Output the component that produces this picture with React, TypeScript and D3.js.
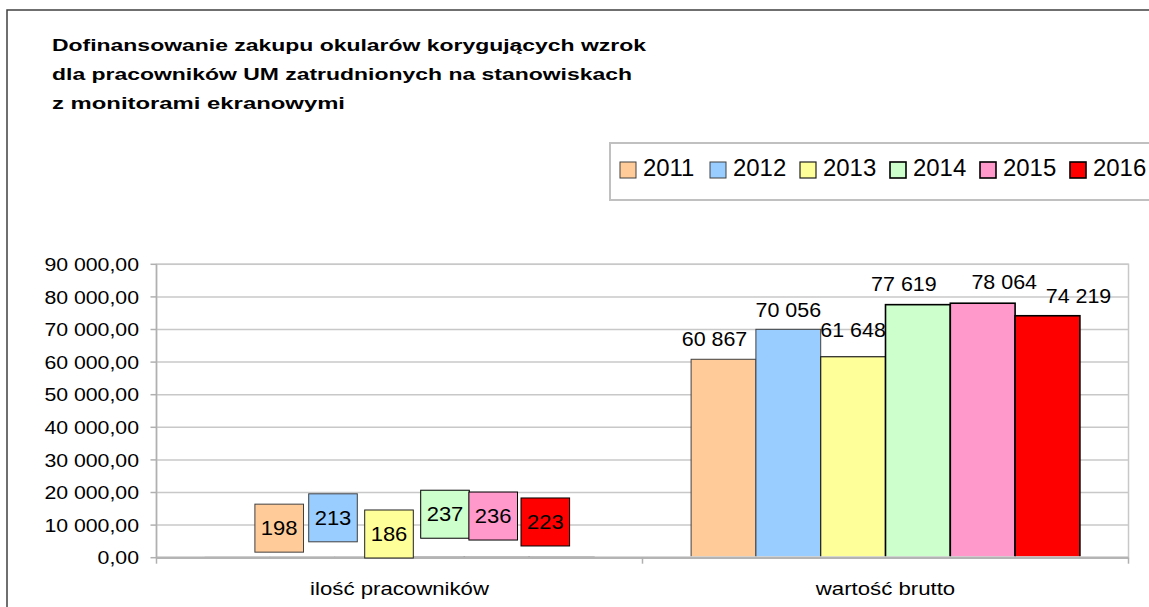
import React from "react";
import * as d3 from "d3";

// ---- data ----
const categories = ["ilość pracowników", "wartość brutto"];
const years = ["2011", "2012", "2013", "2014", "2015", "2016"];
const employees = [198, 213, 186, 237, 236, 223];
const grossValue = [60867, 70056, 61648, 77619, 78064, 74219];
const yTickValues = [0, 10000, 20000, 30000, 40000, 50000, 60000, 70000, 80000, 90000];
const titleLines = [
  "Dofinansowanie zakupu okularów korygujących wzrok",
  "dla pracowników UM zatrudnionych na stanowiskach",
  "z monitorami ekranowymi",
];

// ---- styles ----
const fills = ["#FFCC99", "#99CCFF", "#FFFF99", "#CCFFCC", "#FF99CC", "#FF0000"];
const strokes = ["#404040", "#404040", "#202020", "#000000", "#000000", "#000000"];
const strokeWidths = [1, 1, 1.2, 1.6, 1.6, 1.6];

// manual label nudges (px) per category, per series
const labelNudgeEmployees: [number, number][] = [
  [41.7, -28.9], [30.7, -39.2], [21.9, -23.1], [13.1, -42.7], [-3.5, -40.9], [-16.2, -35],
];
const labelNudgeGross: [number, number][] = [
  [-9, -1.3], [0, -0.6], [0, -7.4], [-14, -2], [21.5, -2.2], [31, -0.4],
];

const W = 1149;
const H = 607;
const FONT = "'Liberation Sans', Arial, sans-serif";

const locale = d3.formatLocale({ decimal: ",", thousands: " ", grouping: [3], currency: ["", ""] });
const fmtTick = locale.format(",.2f");
const fmtVal = locale.format(",.0f");

function SText(props: {
  x: number; y: number; sx: number; size: number; anchor?: string; weight?: string; children: React.ReactNode; dy?: string;
}) {
  const { x, y, sx, size, anchor = "start", weight = "normal", children, dy } = props;
  return (
    <text
      transform={`translate(${x},${y}) scale(${sx},1)`}
      fontSize={size}
      fontFamily={FONT}
      fontWeight={weight}
      textAnchor={anchor}
      dy={dy}
      fill="#000"
    >
      {children}
    </text>
  );
}

export default function App() {
  const plotLeft = 156.5;
  const plotRight = 1128.5;
  const plotTop = 264.3;
  const plotBottom = 557.7;

  const x0 = d3.scaleBand<string>().domain(categories).range([plotLeft, plotRight]).paddingInner(0).paddingOuter(0);
  const x1 = d3.scaleBand<string>().domain(years).range([0, x0.bandwidth()]).paddingInner(0).paddingOuter(0.75);
  const y = d3.scaleLinear().domain([0, 90000]).range([plotBottom, plotTop]);

  const seriesByCat = [employees, grossValue];
  const nudges = [labelNudgeEmployees, labelNudgeGross];

  const legendX0 = 620;
  const legendStep = 90;

  return (
    <>
      <style>{`html,body{margin:0;padding:0;overflow:hidden;background:#fff}`}</style>
      <svg
        width={W}
        height={H}
        viewBox={`0 0 ${W} ${H}`}
        style={{ position: "absolute", left: 0, top: 0, display: "block", overflow: "hidden" }}
      >
        <defs>
          <clipPath id="barClip">
            <rect x={plotLeft - 5} y={plotTop - 10} width={plotRight - plotLeft + 10} height={plotBottom - plotTop + 8.5} />
          </clipPath>
        </defs>
        <rect x={0} y={0} width={W} height={H} fill="#fff" />
        {/* outer chart border (continues beyond the visible area) */}
        <path d={`M7,${H + 5} V10 H${W + 5}`} fill="none" stroke="#404040" strokeWidth={1.5} />

        {/* title */}
        {titleLines.map((t, i) => (
          <text
            key={i}
            x={52}
            y={51 + i * 29}
            fontSize={16.5}
            fontWeight="bold"
            fontFamily={FONT}
            textLength={[594, 580, 293][i]}
            lengthAdjust="spacingAndGlyphs"
          >
            {t}
          </text>
        ))}

        {/* legend */}
        <path d={`M${W + 5},143 H610 V200 H${W + 5}`} fill="#fff" stroke="#c0c0c0" strokeWidth={2} />
        {years.map((yr, i) => (
          <g key={yr}>
            <rect
              x={legendX0 + i * legendStep}
              y={162}
              width={16}
              height={16}
              fill={fills[i]}
              stroke={strokes[i]}
              strokeWidth={strokeWidths[i]}
            />
            <SText x={legendX0 + i * legendStep + 23} y={175.8} sx={1.04} size={23}>
              {yr}
            </SText>
          </g>
        ))}

        {/* plot area */}
        <rect x={plotLeft} y={plotTop} width={plotRight - plotLeft} height={plotBottom - plotTop} fill="none" stroke="#c8c8c8" strokeWidth={1.5} />
        {yTickValues.map((v) => (
          <g key={v}>
            <line x1={plotLeft} x2={plotRight} y1={y(v)} y2={y(v)} stroke="#c8c8c8" strokeWidth={1.5} />
            <line x1={plotLeft - 6} x2={plotLeft} y1={y(v)} y2={y(v)} stroke="#b0b0b0" strokeWidth={1.5} />
            <SText x={139} y={y(v)} sx={1.15} size={18.5} anchor="end" dy="0.36em">
              {fmtTick(v)}
            </SText>
          </g>
        ))}

        {/* bars */}
        <g clipPath="url(#barClip)">
          {categories.map((c, ci) => (
            <g key={c}>
              {years.map((yr, si) => {
                const v = seriesByCat[ci][si];
                const bx = (x0(c) as number) + (x1(yr) as number);
                return (
                  <rect
                    key={yr}
                    x={bx}
                    y={y(v)}
                    width={x1.bandwidth()}
                    height={y(0) - y(v)}
                    fill={fills[si]}
                    stroke={strokes[si]}
                    strokeWidth={strokeWidths[si]}
                  />
                );
              })}
            </g>
          ))}
        </g>

        {/* axes */}
        <line x1={plotLeft} x2={plotLeft} y1={plotTop} y2={plotBottom} stroke="#b0b0b0" strokeWidth={1.5} />
        <line x1={plotLeft} x2={plotRight} y1={plotBottom} y2={plotBottom} stroke="#b4b4b4" strokeWidth={2.5} />
        {[plotLeft, ...categories.map((c) => (x0(c) as number) + x0.bandwidth())].map((tx, i) => (
          <line key={i} x1={tx} x2={tx} y1={plotBottom} y2={plotBottom + 6} stroke="#b0b0b0" strokeWidth={1.5} />
        ))}
        {categories.map((c) => (
          <SText key={c} x={(x0(c) as number) + x0.bandwidth() / 2} y={595} sx={1.2} size={18.5} anchor="middle">
            {c}
          </SText>
        ))}

        {/* data labels */}
        {years.map((yr, si) => {
          const c = categories[0];
          const v = employees[si];
          const cx = (x0(c) as number) + (x1(yr) as number) + x1.bandwidth() / 2 + nudges[0][si][0];
          const cy = y(v) + nudges[0][si][1];
          return (
            <g key={"e" + yr}>
              <rect
                x={cx - 24.3}
                y={cy - 24}
                width={48.6}
                height={48}
                fill={fills[si]}
                stroke={strokes[si]}
                strokeWidth={1}
              />
              <SText x={cx} y={cy} sx={1.1} size={20} anchor="middle" dy="0.36em">
                {fmtVal(v)}
              </SText>
            </g>
          );
        })}
        {years.map((yr, si) => {
          const c = categories[1];
          const v = grossValue[si];
          const cx = (x0(c) as number) + (x1(yr) as number) + x1.bandwidth() / 2 + nudges[1][si][0];
          const by = y(v) - 12 + nudges[1][si][1];
          return (
            <SText key={"g" + yr} x={cx} y={by} sx={1.1} size={19.5} anchor="middle">
              {fmtVal(v)}
            </SText>
          );
        })}
      </svg>
    </>
  );
}
